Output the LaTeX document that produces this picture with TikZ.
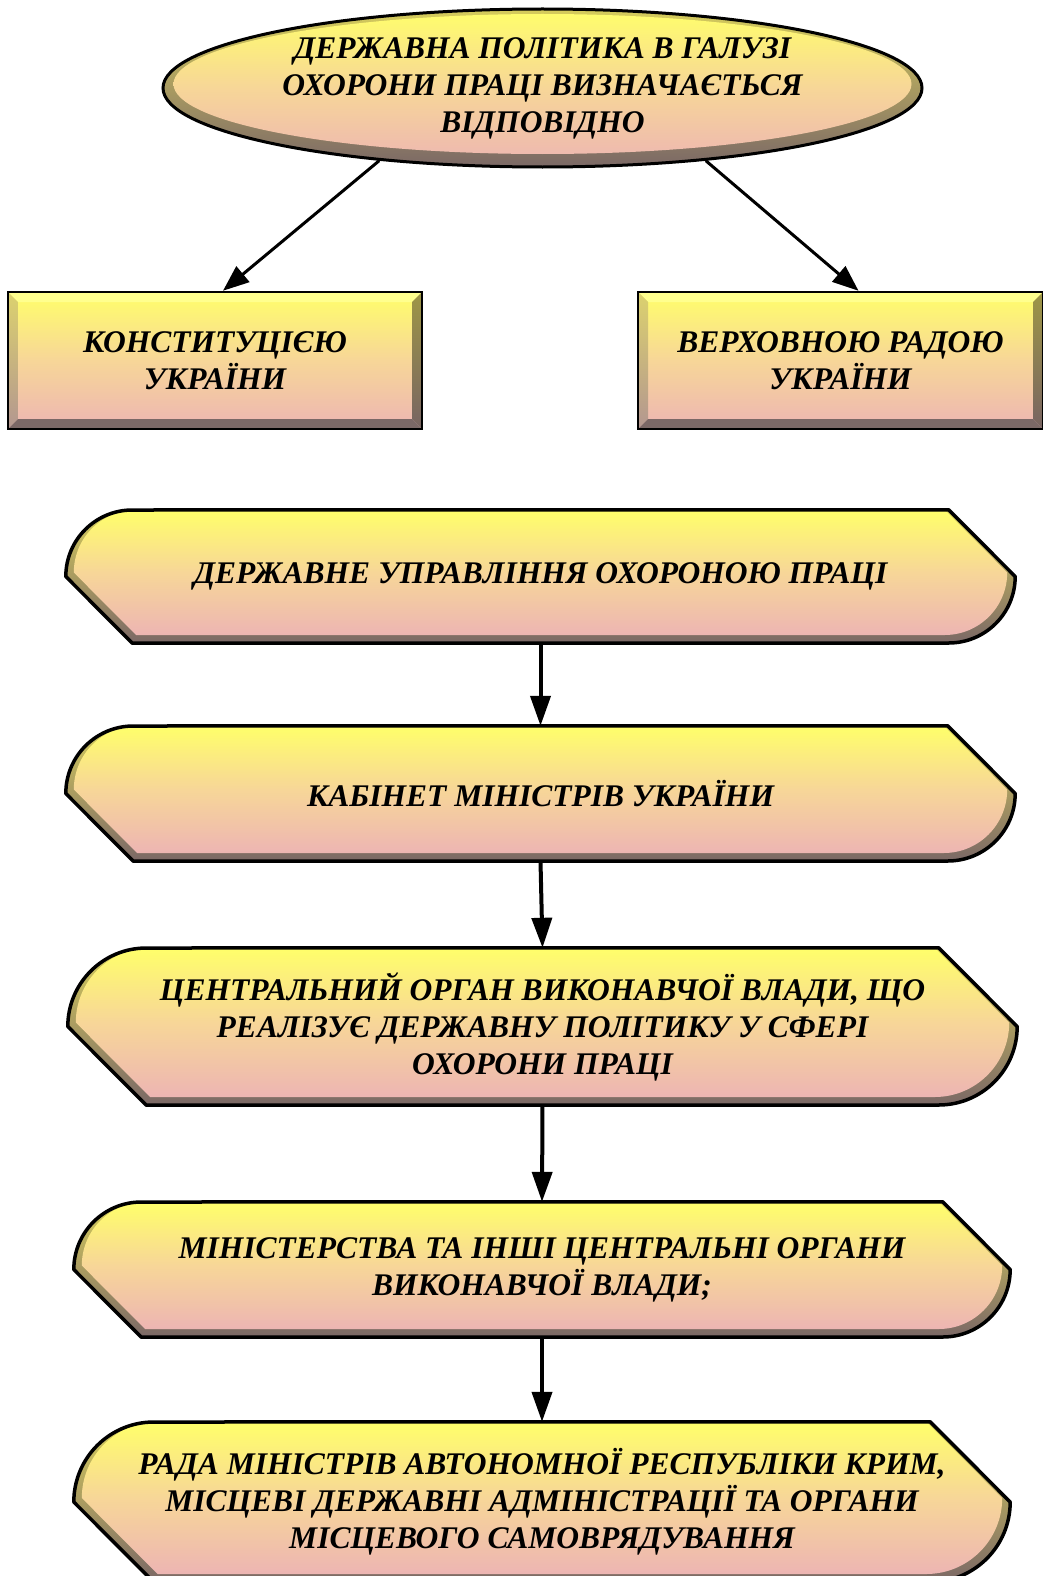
\documentclass[tikz,border=0pt]{standalone}
\usepackage{fontspec}
\setmainfont{Liberation Serif}
\usetikzlibrary{arrows.meta,positioning,shapes.geometric,calc,backgrounds}

\definecolor{faceTop}{HTML}{FFFF6A}
\definecolor{faceMid}{HTML}{F7D698}
\definecolor{facePink}{HTML}{EDB5B3}
\definecolor{rimTop}{HTML}{D6CD5C}
\definecolor{rimLow}{HTML}{7B6866}
\definecolor{rimHi}{HTML}{FFFF8E}
\definecolor{rimLeftTop}{HTML}{DCD26E}
\definecolor{rimLeftLow}{HTML}{B39690}
\definecolor{rimRightTop}{HTML}{9E9646}
\definecolor{rimRightLow}{HTML}{786462}

% outline of a flag box: node, inset, corner radius
\newcommand\flagpath[3]{%
  ($(#1.west)+(#2,#2/2)$) arc[start angle=180,end angle=90,radius=#3]
  -- ($(#1.north east)+(-#2-#3,0)$) -- ($(#1.east)+(-#2,#2/2)$)
  arc[start angle=0,end angle=-90,radius=#3]
  -- ($(#1.south west)+(#2+#3,#2)$) -- cycle}

% bevelled flag behind a text node: node, half height
\newcommand\flagshape[2]{%
  \pgfmathsetmacro\flagin{#2-4}
  \shade[top color=rimTop, bottom color=rimLow] \flagpath{#1}{0}{#2};
  \shade[facefill] \flagpath{#1}{8}{\flagin};
  \draw[rimline] \flagpath{#1}{0}{#2};
}

\tikzset{
  facefill/.style={top color=faceTop, bottom color=facePink, middle color=faceMid},
  rimline/.style={draw=black, line width=3.5pt, line join=round},
  txt/.style={font=\fontsize{31.5}{37}\selectfont\bfseries\itshape, align=center},
  oval/.style={ellipse, draw, line width=3pt, inner sep=0pt,
    minimum width=759pt, minimum height=158pt,
    top color=rimTop, bottom color=rimLow,
    path picture={\shade[facefill] ([yshift=4pt]path picture bounding box.center)
      ellipse[x radius=369pt, y radius=70pt];}},
  plaque/.style={rectangle, draw, line width=2.5pt, inner sep=0pt,
    minimum width=#1, minimum height=137pt, facefill,
    path picture={
      \coordinate (tl) at (path picture bounding box.north west);
      \coordinate (tr) at (path picture bounding box.north east);
      \coordinate (bl) at (path picture bounding box.south west);
      \coordinate (br) at (path picture bounding box.south east);
      \fill[rimHi] (tl) -- (tr) -- ([shift={(-10pt,-10pt)}]tr) -- ([shift={(10pt,-10pt)}]tl) -- cycle;
      \shade[top color=rimLeftTop, bottom color=rimLeftLow]
        (tl) -- ([shift={(10pt,-10pt)}]tl) -- ([shift={(10pt,10pt)}]bl) -- (bl) -- cycle;
      \shade[top color=rimRightTop, bottom color=rimRightLow]
        (tr) -- (br) -- ([shift={(-10pt,10pt)}]br) -- ([shift={(-10pt,-10pt)}]tr) -- cycle;
      \fill[rimLow] (bl) -- ([shift={(10pt,10pt)}]bl) -- ([shift={(-10pt,10pt)}]br) -- (br) -- cycle;
    }},
  flag/.style 2 args={txt, inner sep=0pt, minimum width=#1, minimum height=#2},
  flow/.style={-{Triangle[length=30pt,width=20pt]}, line width=4pt},
  link/.style={-{Triangle[length=26pt,width=20pt]}, line width=3pt}
}

\begin{document}
\begin{tikzpicture}[x=1pt, y=1pt]
\useasboundingbox (0,0) rectangle (1043,-1576);

\node[oval, txt] (policy) at (542.5,-88)
  {ДЕРЖАВНА ПОЛІТИКА В ГАЛУЗІ\\ОХОРОНИ ПРАЦІ ВИЗНАЧАЄТЬСЯ\\ВІДПОВІДНО};
\node[plaque=414pt, txt] (constitution) at (215,-360.5) {КОНСТИТУЦІЄЮ\\УКРАЇНИ};
\node[plaque=405pt, txt] (rada) at (840.5,-360.5) {ВЕРХОВНОЮ РАДОЮ\\УКРАЇНИ};

\node[flag={949pt}{133pt}] (gov) at (540.5,-576.5) {ДЕРЖАВНЕ УПРАВЛІННЯ ОХОРОНОЮ ПРАЦІ};
\node[flag={949pt}{135pt}] (cabinet) at (540.5,-793.5) {КАБІНЕТ МІНІСТРІВ УКРАЇНИ};
\node[flag={949pt}{157pt}] (central) at (542.5,-1026.5)
  {ЦЕНТРАЛЬНИЙ ОРГАН ВИКОНАВЧОЇ ВЛАДИ, ЩО\\РЕАЛІЗУЄ ДЕРЖАВНУ ПОЛІТИКУ У СФЕРІ\\ОХОРОНИ ПРАЦІ};
\node[flag={936pt}{135pt}] (ministries) at (542,-1269.5)
  {МІНІСТЕРСТВА ТА ІНШІ ЦЕНТРАЛЬНІ ОРГАНИ\\ВИКОНАВЧОЇ ВЛАДИ;};
\node[flag={936pt}{160pt}] (local) at (542,-1502)
  {РАДА МІНІСТРІВ АВТОНОМНОЇ РЕСПУБЛІКИ КРИМ,\\МІСЦЕВІ ДЕРЖАВНІ АДМІНІСТРАЦІЇ ТА ОРГАНИ\\МІСЦЕВОГО САМОВРЯДУВАННЯ};

\begin{scope}[on background layer]
  \flagshape{gov}{66.5}
  \flagshape{cabinet}{67.5}
  \flagshape{central}{78.5}
  \flagshape{ministries}{67.5}
  \flagshape{local}{80}
\end{scope}

\draw[link] (policy.204) -- ([xshift=8pt]constitution.north);
\draw[link] (policy.336) -- ([xshift=18pt]rada.north);
\draw[flow] (gov.south) -- (cabinet.north);
\draw[flow] (cabinet.south) -- (central.north);
\draw[flow] (central.south) -- (ministries.north);
\draw[flow] (ministries.south) -- (local.north);
\end{tikzpicture}
\end{document}
